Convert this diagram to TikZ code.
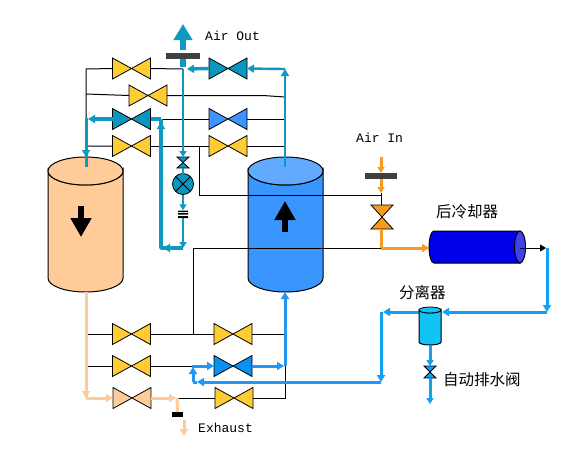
\documentclass[tikz,border=0pt]{standalone}
\usepackage{fontspec}
\setmonofont{Liberation Mono}
\newfontfamily\cjk{Noto Sans CJK SC}
\usetikzlibrary{arrows.meta,calc}
\definecolor{vyellow}{HTML}{FFCC33}
\definecolor{vteal}{HTML}{0B96C0}
\definecolor{vblue}{HTML}{3D94FF}
\definecolor{vblueb}{HTML}{0A90F0}
\definecolor{vpeach}{HTML}{FFCC99}
\definecolor{pteal}{HTML}{0F99C2}
\definecolor{porange}{HTML}{F89A1C}
\definecolor{pblue}{HTML}{2196F3}
\definecolor{psep}{HTML}{12A0F0}
\definecolor{tankb}{HTML}{3A96FF}
\definecolor{tankt}{HTML}{62AAFF}
\definecolor{cool}{HTML}{0000E8}
\definecolor{coolend}{HTML}{4040F0}
\definecolor{sepfill}{HTML}{11C4F5}
\definecolor{bargrey}{HTML}{404040}
\tikzset{
  valvebox/.style={inner sep=0pt,outer sep=0pt,minimum width=38pt,minimum height=21pt},
  valveshape/.style={draw=black,line width=0.8pt,line join=miter},
  thin line/.style={draw=black,line width=1pt},
  tip/.style={-{Triangle[length=7pt,width=8pt]}},
  smalltip/.style={-{Triangle[length=6pt,width=7pt]}},
  tealthick/.style={draw=pteal,line width=3.4pt},
  tealthin/.style={draw=pteal,line width=2.4pt},
  orangepipe/.style={draw=porange,line width=3pt},
  peachpipe/.style={draw=vpeach,line width=3pt},
  bluepipe/.style={draw=pblue,line width=3pt},
  seppipe/.style={draw=psep,line width=3pt},
  bar/.style={inner sep=0pt,outer sep=0pt,fill=#1},
  lab/.style={font=\ttfamily\fontsize{13}{13}\selectfont,inner sep=0pt,anchor=west,text=black},
  cjklab/.style={font=\cjk\fontsize{15.5}{15.5}\selectfont,inner sep=0pt,anchor=west,text=black},
  box/.style={inner sep=0pt,outer sep=0pt}
}
\newcommand{\hvalve}[4]{%
  \node[valvebox] (#1) at (#2,#3) {};
  \path[valveshape,fill=#4] (#1.north west)--(#1.center)--(#1.south west)--cycle;
  \path[valveshape,fill=#4] (#1.north east)--(#1.center)--(#1.south east)--cycle;
}
\newcommand{\vvalve}[6]{%
  \node[inner sep=0pt,outer sep=0pt,minimum width=#4pt,minimum height=#5pt] (#1) at (#2,#3) {};
  \path[valveshape,fill=#6] (#1.north west)--(#1.center)--(#1.north east)--cycle;
  \path[valveshape,fill=#6] (#1.south west)--(#1.center)--(#1.south east)--cycle;
}
\newcommand{\tank}[4]{% name, x center, body fill, top fill
  \node[box,minimum width=75pt,minimum height=135pt] (#1) at (#2,224.5) {};
  \path[draw=black,line width=1pt,fill=#3] ($(#2,171)+(-37.5,0)$) -- ($(#2,278)+(-37.5,0)$)
     arc[start angle=180,end angle=0,x radius=37.5,y radius=14] -- ($(#2,171)+(37.5,0)$)
     arc[start angle=0,end angle=180,x radius=37.5,y radius=14] -- cycle;
  \path[draw=black,line width=1pt,fill=#4] (#2,171) circle[x radius=37.5,y radius=14];
}
\begin{document}
\begin{tikzpicture}[x=1pt,y=-1pt]
\useasboundingbox[fill=white] (0,0) rectangle (570,448);

% junction points
\coordinate (jLtop) at (86,69);
\coordinate (jL2) at (86,94);
\coordinate (jL3) at (86,119);
\coordinate (jL4) at (86,146);
\coordinate (jO) at (183,69);
\coordinate (jR1) at (285,69);
\coordinate (jR2a) at (263,95.5);
\coordinate (jR2) at (285,97);
\coordinate (jR3) at (285,119);
\coordinate (jR4) at (285,146);
\coordinate (jRet) at (161,119);
\coordinate (jD1) at (199,146);
\coordinate (jD2) at (199,195);
\coordinate (jI1) at (381,195);
\coordinate (jI2) at (381,248);
\coordinate (jC1) at (193,248);
\coordinate (jC2) at (193,334);
\coordinate (jBL1) at (86,334);
\coordinate (jBL2) at (86,366);
\coordinate (jBL3) at (86,398);
\coordinate (jBR1) at (285,334);
\coordinate (jBR2) at (285,366);
\coordinate (jBR3) at (285,398);
\coordinate (jB2) at (193,366);
\coordinate (jB3) at (177,398);
\coordinate (jRetB) at (161,248);
\coordinate (jGB) at (183,248);

% valves
\hvalve{v1}{131.5}{68.5}{vyellow}
\hvalve{v2}{148}{95.5}{vyellow}
\hvalve{v3}{131.5}{119}{vteal}
\hvalve{v4}{131.5}{146}{vyellow}
\hvalve{v5}{228}{68.5}{vteal}
\hvalve{v6}{228}{119}{vblue}
\hvalve{v7}{228}{146}{vyellow}
\hvalve{v8}{131.5}{334}{vyellow}
\hvalve{v9}{131.5}{366}{vyellow}
\hvalve{v10}{132}{398}{vpeach}
\hvalve{v11}{233}{334}{vyellow}
\hvalve{v12}{233}{366}{vblueb}
\hvalve{v13}{234}{398}{vyellow}

% thin black lines
\path[thin line] (v1.west) -- (jLtop) -- (jL4) -- (v4.west);
\path[thin line] (v1.east) -- (jO);
\path[thin line] (jL2) -- (v2.west);
\path[thin line] (v2.east) -- (jR2a) -- (jR2);
\path[thin line] (jRet) -- (v6.west);
\path[thin line] (v6.east) -- (jR3);
\path[thin line] (v4.east) -- (v7.west);
\path[thin line] (v7.east) -- (jR4);
\path[thin line] (jBL1) -- (v8.west);
\path[thin line] (v8.east) -- (v11.west);
\path[thin line] (v11.east) -- (jBR1);
\path[thin line] (jBL2) -- (v9.west);
\path[thin line] (v9.east) -- (jB2);
\path[thin line] (jB3) -- (v13.west);
\path[thin line] (v13.east) -- (jBR3) -- (jBR2);

% tanks
\tank{tankL}{85.5}{vpeach}{vpeach}
\tank{tankR}{285.5}{tankb}{tankt}

% black lines that run across the right tank
\path[thin line] (jD1) -- (jD2) -- (jI1);
\path[thin line] (jC2) -- (jC1) -- (jI2);

% tank direction arrows
\coordinate (aLt) at (81,206);
\coordinate (aLb) at (81,237);
\draw[line width=6pt,-{Triangle[length=19pt,width=20pt]}] (aLt) -- (aLb);
\coordinate (aRt) at (285,232);
\coordinate (aRb) at (285,201);
\draw[line width=6pt,-{Triangle[length=19pt,width=20pt]}] (aRt) -- (aRb);

% teal outlet circuit
\coordinate (outTip) at (183,24);
\draw[draw=pteal,line width=6pt,-{Triangle[length=16pt,width=18pt]}] (183,50) -- (outTip);
\path[draw=pteal,line width=6pt] (183,59) -- (183,67);
\node[box,bar=bargrey,minimum width=34pt,minimum height=6pt] (barO) at (183,56) {};
\coordinate (tR) at ($(tankR.north)+(-0.5,10)$);
\draw[tealthin,tip] (tR) -- (jR1);
\draw[tealthin,tip] (jR1) -- (v5.east);
\draw[tealthick,tip] (v5.west) -- (187,69);
\vvalve{vs}{183}{162.5}{12}{11}{pteal}
\draw[tealthin,smalltip] (jO) -- (vs.north);
\node[circle,draw=black,line width=0.8pt,fill=vteal,minimum size=21pt,inner sep=0pt,outer sep=0pt] (gauge) at (183,184) {};
\path[draw=black,line width=0.8pt] (gauge.north west) -- (gauge.south east) (gauge.north east) -- (gauge.south west);
\path[tealthin] (vs.south) -- (gauge.north);
\node[box,minimum width=10pt,minimum height=7.5pt] (cap) at (183,214) {};
\fill (178,210.5) rectangle (188,212) (178,213) rectangle (188,214.5) (178,216) rectangle (188,218);
\draw[tealthin,smalltip] (gauge.south) -- (cap.north);
\draw[tealthin,smalltip] (cap.south) -- (jGB);
\draw[tealthick,line join=round] (jGB) -- (jRetB) -- (jRet);
\draw[tealthick,tip] (jGB) -- (163,248);
\draw[tealthin,tip] (161,135) -- (161,122);
\path[tealthick] (jRet) -- (v3.east);
\draw[tealthick,tip] (v3.west) -- (88,119);
\coordinate (tL) at ($(tankL.north)+(0.5,10)$);
\path[tealthin,line width=3pt] (86,117.5) -- (tL);
\draw[tealthin,tip] (86,145) -- (86,157);

% lower peach path
\coordinate (tLb) at (86,292);
\path[peachpipe] (tLb) -- (jBL3);
\draw[peachpipe,tip] (86,385) -- (jBL3);
\draw[peachpipe,tip] (jBL3) -- (v10.west);
\draw[peachpipe,tip] (v10.east) -- (176,398);
\node[box,bar=black,minimum width=11pt,minimum height=5pt] (barE) at (177.5,414.5) {};
\path[peachpipe] (jB3) -- (barE.north);
\coordinate (exTip) at (184,436);
\coordinate (exTop) at (184,420);
\draw[peachpipe,tip] (exTop) -- (exTip);

% lower blue path
\coordinate (tRb) at (285,292);
\coordinate (sepL) at (381,312);
\coordinate (sepLb) at (381,382);
\coordinate (blL) at (193,382);
\coordinate (blB) at (193,366);
\draw[bluepipe,tip] (v12.east) -- (284,366);
\draw[bluepipe,tip] (jBR2) -- (tRb);
\draw[bluepipe,tip] (191.5,366) -- (v12.west);
\draw[bluepipe,tip] (blL) -- (193,367);
\draw[bluepipe,tip] (sepLb) -- (197,382);
\path[bluepipe] (197,382) -- (blL);

% air in
\node[box,bar=bargrey,minimum width=32pt,minimum height=6pt] (barI) at (381,176) {};
\coordinate (inTop) at (381,157);
\draw[orangepipe,smalltip] (inTop) -- (barI.north);
\vvalve{vin}{382}{217}{22}{24}{porange}
\draw[orangepipe,smalltip] (barI.south) -- (381,193);
\path[thin line] (381,193) -- (381,205);
\path[orangepipe] (381,229) -- (jI2);
\draw[orangepipe,tip] (jI2) -- (429,248);

% aftercooler
\node[box,minimum width=96pt,minimum height=32pt] (cooler) at (477,247) {};
\path[draw=black,line width=1pt,fill=cool] (434,231) -- (520,231) -- (520,263) -- (434,263)
  .. controls (427.5,263) and (427.5,231) .. (434,231) -- cycle;
\path[draw=black,line width=1pt,fill=coolend] (520,247) circle[x radius=5.5,y radius=16];
\coordinate (coolC) at (520,248);
\coordinate (coolTip) at (546,248);
\draw[line width=1pt,-{Triangle[length=6pt,width=7pt]}] (coolC) -- (coolTip);

% separator circuit
\coordinate (rTop) at (547,248);
\coordinate (rBot) at (547,312);
\draw[seppipe,tip] (rTop) -- (rBot);
\draw[seppipe,tip] (rBot) -- (442,312);
\node[box,minimum width=22pt,minimum height=38pt] (sep) at (430,326) {};
\draw[seppipe,tip] (sep.west |- sepL) -- (383,312);
\draw[seppipe,tip,line join=round] (sepL) -- (sepLb);
\path[draw=black,line width=1pt,fill=sepfill] (419,310) -- (419,342)
  arc[start angle=180,end angle=0,x radius=11,y radius=3] -- (441,310)
  arc[start angle=0,end angle=180,x radius=11,y radius=3] -- cycle;
\path[draw=black,line width=0.8pt,fill=sepfill] (430,310) circle[x radius=11,y radius=3];
\vvalve{vd}{430}{372}{12}{12}{psep}
\draw[seppipe,smalltip] (sep.south) -- (vd.north);
\coordinate (dTip) at (430,404);
\draw[seppipe,smalltip] (vd.south) -- (dTip);

% labels
\node[lab] (lAO) at (205,36) {Air Out};
\node[lab] (lAI) at (356,138) {Air In};
\node[lab] (lEx) at (198,428) {Exhaust};
\node[cjklab] (lC) at (436,212) {后冷却器};
\node[cjklab] (lS) at (399,293) {分离器};
\node[cjklab] (lD) at (443,380) {自动排水阀};
\end{tikzpicture}
\end{document}
